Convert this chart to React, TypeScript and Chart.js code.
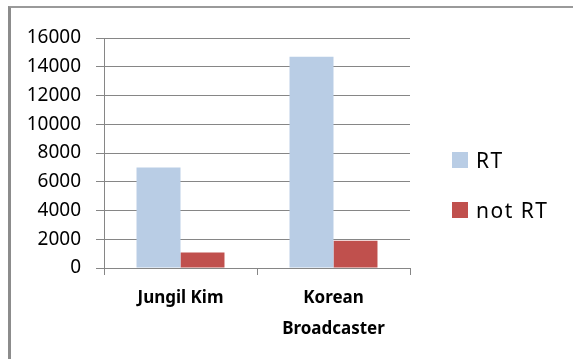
import React, { useEffect, useRef } from "react";
import { Chart, registerables } from "chart.js";

Chart.register(...registerables);

// Categories (multi-line labels) and series values
const categories: string[][] = [["Jungil Kim"], ["Korean", "Broadcaster"]];
const rtValues: number[] = [7000, 14700];
const notRtValues: number[] = [1070, 1900];
const seriesNames: string[] = ["RT", "not RT"];
const seriesColors: string[] = ["#B9CDE5", "#C0504D"];
const yMax = 16000;
const yStep = 2000;

const GRID = "#868686";
const FONT = "'Noto Sans', 'Liberation Sans', sans-serif";

export default function App() {
  const canvasRef = useRef<HTMLCanvasElement | null>(null);

  useEffect(() => {
    const canvas = canvasRef.current;
    if (!canvas) return;
    const chart = new Chart(canvas, {
      type: "bar",
      data: {
        labels: categories,
        datasets: [
          {
            label: seriesNames[0],
            data: rtValues,
            backgroundColor: seriesColors[0],
            borderWidth: 0,
            categoryPercentage: 0.575,
            barPercentage: 1,
          },
          {
            label: seriesNames[1],
            data: notRtValues,
            backgroundColor: seriesColors[1],
            borderWidth: 0,
            categoryPercentage: 0.575,
            barPercentage: 1,
          },
        ],
      },
      options: {
        animation: false,
        responsive: false,
        events: [],
        layout: { padding: { left: 0, top: 38, right: 163, bottom: 0 } },
        plugins: {
          legend: { display: false },
          tooltip: { enabled: false },
        },
        scales: {
          x: {
            grid: {
              offset: true,
              drawOnChartArea: false,
              drawTicks: true,
              tickLength: 7,
              color: GRID,
            },
            border: { display: true, color: GRID },
            ticks: {
              color: "#000",
              padding: 8,
              maxRotation: 0,
              autoSkip: false,
              font: { family: FONT, size: 17, weight: "bold", lineHeight: 31 / 17 },
            },
            afterFit: (scale: any) => {
              scale.height = 91;
            },
          },
          y: {
            min: 0,
            max: yMax,
            grid: { color: GRID, tickLength: 8 },
            border: { display: true, color: GRID },
            ticks: {
              stepSize: yStep,
              color: "#000",
              padding: 15,
              font: { family: FONT, size: 19 },
              callback: (value: any) => String(value),
            },
            afterFit: (scale: any) => {
              scale.width = 104;
            },
          },
        },
      },
    });
    return () => chart.destroy();
  }, []);

  return (
    <div
      style={{
        position: "absolute",
        left: 0,
        top: 0,
        width: 573,
        height: 359,
        background: "#fff",
        overflow: "hidden",
      }}
    >
      <div
        style={{
          position: "absolute",
          left: 8,
          top: 6,
          right: 0,
          bottom: 0,
          borderLeft: "3px solid #8c8c8c",
          borderTop: "2px solid #9a9a9a",
        }}
      />
      <canvas
        ref={canvasRef}
        width={573}
        height={359}
        style={{ position: "absolute", left: 0, top: 0, width: 573, height: 359 }}
      />
      <div
        style={{
          position: "absolute",
          left: 452,
          top: 150,
          fontFamily: FONT,
          fontSize: 21,
          letterSpacing: "1.5px",
          color: "#000",
        }}
      >
        {seriesNames.map((name, i) => (
          <div
            key={name}
            style={{
              display: "flex",
              alignItems: "center",
              height: 20,
              marginBottom: 30,
              whiteSpace: "nowrap",
            }}
          >
            <span
              style={{
                display: "inline-block",
                width: 16,
                height: 16,
                background: seriesColors[i],
                marginRight: 8,
              }}
            />
            <span style={{ lineHeight: "20px" }}>{name}</span>
          </div>
        ))}
      </div>
    </div>
  );
}
